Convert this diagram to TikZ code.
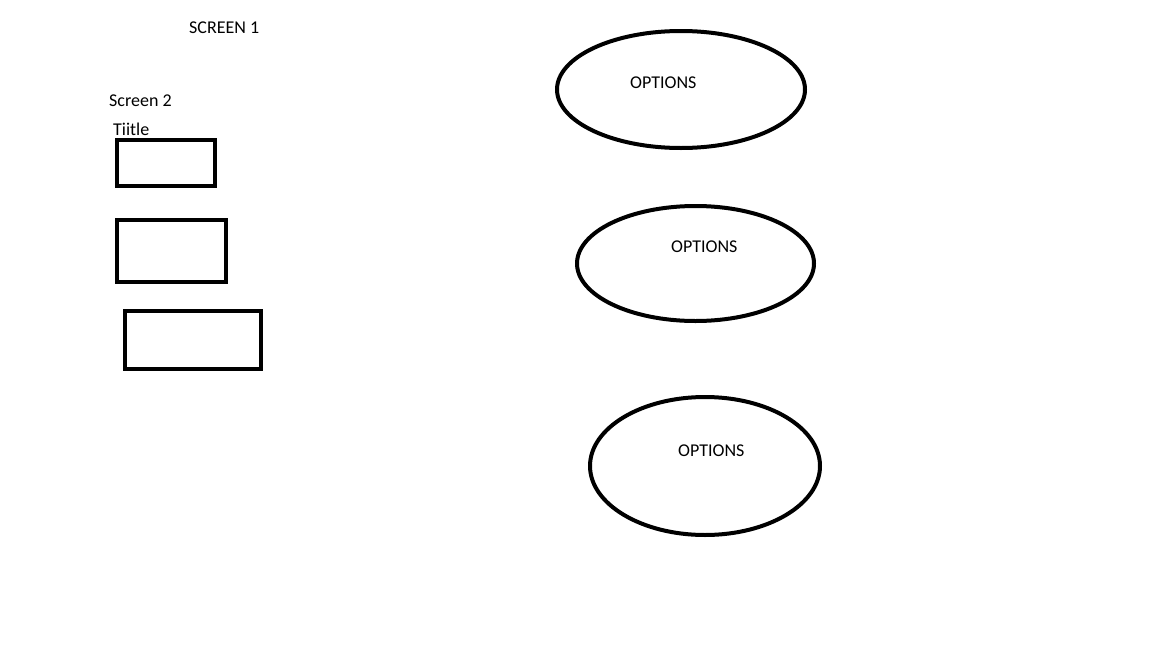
\documentclass[tikz,border=0pt]{standalone}
\usepackage{fontspec}
\setmainfont{Carlito}
\usetikzlibrary{shapes.geometric}
\begin{document}
\begin{tikzpicture}[x=1pt,y=-1pt,
  lbl/.style={anchor=base west,inner sep=0pt,font=\fontsize{18}{20}\selectfont},
  box/.style={draw,line width=4pt},
  oval/.style={draw,line width=4pt,ellipse,inner sep=0pt}]
\useasboundingbox[fill=white] (0,0) rectangle (1152,648);
\node[lbl] (s1) at (189,33) {SCREEN 1};
\node[lbl] (s2) at (109,106.5) {Screen 2};
\node[lbl] (ti) at (113,135) {Tiitle};
\draw[box] (117,140) rectangle (215,186);
\draw[box] (117,220) rectangle (226,282);
\draw[box] (125,311) rectangle (261,369);
\node[oval,minimum width=248pt,minimum height=117pt] (e1) at (681,89.5) {};
\node[oval,minimum width=237pt,minimum height=115pt] (e2) at (695.5,263.5) {};
\node[oval,minimum width=230pt,minimum height=138pt] (e3) at (705,466) {};
\node[lbl] (o1) at (630,88) {OPTIONS};
\node[lbl] (o2) at (671,252) {OPTIONS};
\node[lbl] (o3) at (678,456) {OPTIONS};
\end{tikzpicture}
\end{document}
